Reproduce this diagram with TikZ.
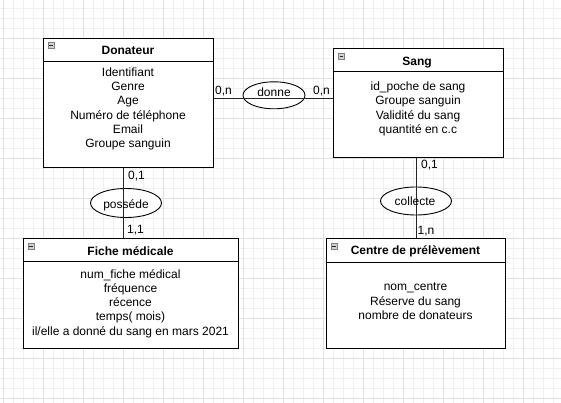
\documentclass[tikz,border=0pt]{standalone}
\usepackage{fontspec}
\setmainfont{Liberation Sans}
\usetikzlibrary{shapes.geometric}
\tikzset{
  gridminor/.style={draw=black!6, line width=0.6pt},
  gridmajor/.style={draw=black!12, line width=0.6pt},
  ent/.style={draw=black, fill=white, line width=1pt, rectangle, inner sep=0pt, anchor=north west},
  hdr/.style={draw=black, line width=1pt},
  rel/.style={draw=black, fill=white, line width=0.9pt, ellipse, inner sep=0pt},
  conn/.style={draw=black!85, line width=1pt},
  txt/.style={font=\fontsize{12}{14}\selectfont, inner sep=0pt, anchor=base},
  ttl/.style={font=\fontsize{12}{14}\selectfont\bfseries, inner sep=0pt, anchor=base},
  icon/.style={draw=black!50, fill=black!18, line width=0.7pt, rectangle, minimum size=6pt, inner sep=0pt,
    path picture={\draw[black!85, line width=0.9pt] ([xshift=1.2pt]path picture bounding box.west) -- ([xshift=-1.2pt]path picture bounding box.east);}},
}
\begin{document}
\begin{tikzpicture}[x=1pt,y=-1pt]
\useasboundingbox (0,0) rectangle (561,403);
\fill[white] (0,0) rectangle (561,403);
% grid
\foreach \x in {3,13,...,561} \draw[gridminor] (\x,0) -- (\x,403);
\foreach \y in {8,18,...,403} \draw[gridminor] (0,\y) -- (561,\y);
\foreach \x in {3,43,...,561} \draw[gridmajor] (\x,0) -- (\x,403);
\foreach \y in {38,78,...,403} \draw[gridmajor] (0,\y) -- (561,\y);

% entities
\node[ent, minimum width=170pt, minimum height=129pt] (don) at (43,38) {};
\draw[hdr] ([yshift=-24pt]don.north west) -- ([yshift=-24pt]don.north east);
\node[ent, minimum width=170pt, minimum height=109pt] (sang) at (333,48) {};
\draw[hdr] ([yshift=-23.5pt]sang.north west) -- ([yshift=-23.5pt]sang.north east);
\node[ent, minimum width=215pt, minimum height=110pt] (fiche) at (23,238) {};
\draw[hdr] ([yshift=-23pt]fiche.north west) -- ([yshift=-23pt]fiche.north east);
\node[ent, minimum width=179pt, minimum height=110pt] (centre) at (326,238) {};
\draw[hdr] ([yshift=-24pt]centre.north west) -- ([yshift=-24pt]centre.north east);

% icons
\node[icon] (donI) at ([shift={(8,7.5)}]don.north west) {};
\node[icon] (sangI) at ([shift={(8.5,8)}]sang.north west) {};
\node[icon] (ficheI) at ([shift={(8,8.5)}]fiche.north west) {};
\node[icon] (centreI) at ([shift={(8,8)}]centre.north west) {};

% relations
\node[rel, minimum width=62pt, minimum height=27pt] (donne) at (274,95.3) {};
\node[rel, minimum width=71pt, minimum height=29pt] (possede) at (126,203) {};
\node[rel, minimum width=71pt, minimum height=28pt] (collecte) at (416,201) {};

% connectors
\draw[conn] ([yshift=4.5pt]don.east) -- ([yshift=4.5pt]sang.west);
\draw[conn] ([xshift=80.3pt]don.south west) -- ([xshift=100.3pt]fiche.north west);
\draw[conn] ([xshift=83.7pt]sang.south west) -- ([xshift=90.7pt]centre.north west);

% relation texts
\node[txt] (tdonne) at (274,96.6) {donne};
\node[txt] (tpossede) at (126,208) {posséde};
\node[txt] (tcollecte) at (415,205.7) {collecte};

% cardinalities
\node[txt] (c1) at (223.5,95) {0,n};
\node[txt] (c2) at (321.5,95) {0,n};
\node[txt] (c3) at (136.5,179) {0,1};
\node[txt] (c4) at (135.5,233.3) {1,1};
\node[txt] (c5) at (429.5,169) {0,1};
\node[txt] (c6) at (426,234) {1,n};

% titles
\node[ttl] (tdon) at (128,55) {Donateur};
\node[ttl] (tsang) at (417,65.5) {Sang};
\node[ttl] (tfiche) at (130.5,255) {Fiche médicale};
\node[ttl] (tcentre) at (415.5,254.3) {Centre de prélèvement};

% attributes
\foreach \t [count=\i] in {Identifiant,Genre,Age,Numéro de téléphone,Email,Groupe sanguin}
  \node[txt] (da\i) at (128,{76.6+14.2*(\i-1)}) {\t};
\foreach \t [count=\i] in {id\_poche de sang,Groupe sanguin,Validité du sang,quantité en c.c}
  \node[txt] (sa\i) at (418,{90.7+14.2*(\i-1)}) {\t};
\foreach \t [count=\i] in {num\_fiche médical,fréquence,récence,temps( mois),il/elle a donné du sang en mars 2021}
  \node[txt] (fa\i) at (130.5,{278.3+14.2*(\i-1)}) {\t};
\foreach \t [count=\i] in {nom\_centre,Réserve du sang,nombre de donateurs}
  \node[txt] (ca\i) at (415.5,{290.7+14.5*(\i-1)}) {\t};
\end{tikzpicture}
\end{document}
